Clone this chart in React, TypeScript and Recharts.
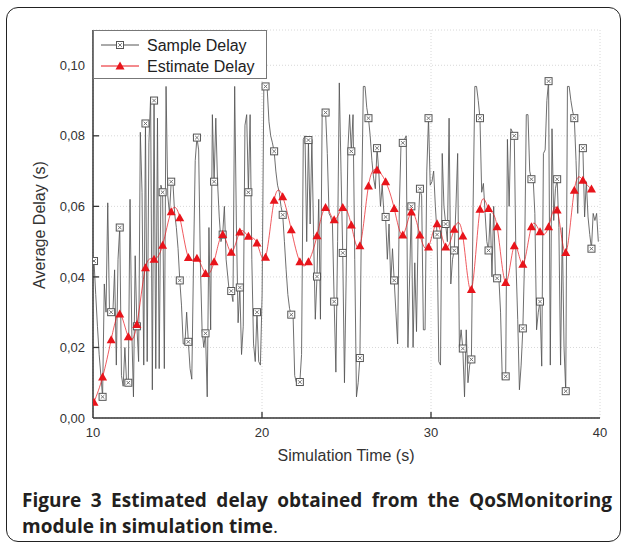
import React from 'react';
import { LineChart, Line, XAxis, YAxis, CartesianGrid } from 'recharts';

// sample grid: markers every 5th sample
const timeStart = 10.06;
const timeStep = 0.1015;

// Sample Delay (s), 5 samples per marker interval
const sampleDelay = [
  0.0445, 0.035, 0.026, 0.018, 0.012,
  0.006, 0.038, 0.030, 0.061, 0.031,
  0.030, 0.030, 0.042, 0.015, 0.045,
  0.054, 0.012, 0.009, 0.020, 0.010,
  0.010, 0.062, 0.025, 0.006, 0.046,
  0.026, 0.016, 0.081, 0.064, 0.015,
  0.0835, 0.016, 0.078, 0.091, 0.008,
  0.090, 0.014, 0.085, 0.014, 0.066,
  0.064, 0.014, 0.094, 0.063, 0.058,
  0.067, 0.067, 0.058, 0.054, 0.048,
  0.039, 0.032, 0.021, 0.021, 0.030,
  0.0216, 0.014, 0.011, 0.044, 0.073,
  0.0795, 0.076, 0.044, 0.025, 0.020,
  0.024, 0.006, 0.054, 0.025, 0.086,
  0.067, 0.085, 0.067, 0.057, 0.050,
  0.052, 0.060, 0.045, 0.040, 0.035,
  0.036, 0.033, 0.094, 0.055, 0.027,
  0.037, 0.018, 0.026, 0.083, 0.086,
  0.064, 0.086, 0.045, 0.021, 0.016,
  0.030, 0.016, 0.015, 0.035, 0.094,
  0.094, 0.093, 0.084, 0.080, 0.078,
  0.0756, 0.070, 0.066, 0.064, 0.060,
  0.0576, 0.050, 0.042, 0.035, 0.031,
  0.0293, 0.030, 0.012, 0.010, 0.011,
  0.0102, 0.018, 0.079, 0.080, 0.050,
  0.0788, 0.055, 0.079, 0.052, 0.028,
  0.0401, 0.062, 0.028, 0.086, 0.087,
  0.0866, 0.075, 0.058, 0.057, 0.055,
  0.033, 0.013, 0.050, 0.095, 0.070,
  0.0468, 0.010, 0.040, 0.076, 0.086,
  0.0756, 0.086, 0.045, 0.006, 0.010,
  0.017, 0.060, 0.094, 0.094, 0.088,
  0.085, 0.080, 0.073, 0.068, 0.065,
  0.0765, 0.070, 0.060, 0.066, 0.058,
  0.057, 0.045, 0.055, 0.038, 0.048,
  0.039, 0.030, 0.021, 0.060, 0.078,
  0.078, 0.079, 0.080, 0.020, 0.040,
  0.060, 0.020, 0.044, 0.0245, 0.055,
  0.065, 0.063, 0.025, 0.025, 0.070,
  0.085, 0.066, 0.067, 0.070, 0.060,
  0.052, 0.016, 0.015, 0.075, 0.060,
  0.055, 0.050, 0.085, 0.038, 0.045,
  0.0475, 0.060, 0.075, 0.020, 0.025,
  0.0197, 0.006, 0.025, 0.010, 0.015,
  0.0166, 0.060, 0.094, 0.094, 0.090,
  0.085, 0.064, 0.0665, 0.058, 0.050,
  0.0475, 0.058, 0.040, 0.060, 0.040,
  0.0396, 0.040, 0.030, 0.011, 0.012,
  0.0118, 0.079, 0.060, 0.082, 0.081,
  0.080, 0.044, 0.028, 0.008, 0.015,
  0.0254, 0.045, 0.086, 0.086, 0.070,
  0.0677, 0.068, 0.058, 0.025, 0.030,
  0.033, 0.0147, 0.075, 0.076, 0.090,
  0.0955, 0.015, 0.082, 0.056, 0.065,
  0.0677, 0.054, 0.015, 0.054, 0.020,
  0.0076, 0.094, 0.094, 0.090, 0.087,
  0.085, 0.073, 0.058, 0.076, 0.077,
  0.0765, 0.057, 0.067, 0.057, 0.052,
  0.048, 0.058, 0.056, 0.058, 0.050,
];

// Estimate Delay (s), one value per marker
const estimateDelay = [
  0.0045, 0.0116, 0.0222, 0.0295, 0.023, 0.0265, 0.0426, 0.045, 0.049, 0.0585,
  0.0568, 0.0455, 0.0453, 0.041, 0.0443, 0.052, 0.047, 0.0527, 0.0515, 0.0496,
  0.0456, 0.0617, 0.0627, 0.0534, 0.0443, 0.0443, 0.0517, 0.0597, 0.0562, 0.0597,
  0.0547, 0.0488, 0.0658, 0.0703, 0.067, 0.0594, 0.0519, 0.0584, 0.0519, 0.0485,
  0.0551, 0.0485, 0.0535, 0.0516, 0.0364, 0.0592, 0.0594, 0.0542, 0.0384, 0.0488,
  0.0436, 0.0542, 0.0528, 0.0542, 0.059, 0.0469, 0.0646, 0.0674, 0.0649,
];

const xTicks = [10, 20, 30, 40];
const yTicks = [0, 0.02, 0.04, 0.06, 0.08, 0.1];

const markEvery = 5;

const data = sampleDelay.map((v, k) => ({
  t: timeStart + timeStep * k,
  sample: v,
  estimate: k % markEvery === 0 ? estimateDelay[k / markEvery] : null,
}));

const FONT = '"Liberation Sans", Arial, sans-serif';
const AXIS = '#333';
const GRAY = '#555';
const RED = '#e8141b';

const fmtY = (v: number) => v.toFixed(2).replace('.', ',');

const LeftTick = (props: any) => {
  const { x, y, payload } = props;
  const ax = x + 8;
  return (
    <g>
      {payload.value > 0 && <line x1={ax} y1={y} x2={ax + 6} y2={y} stroke={AXIS} strokeWidth={1.3} />}
      <text x={x} y={y} dy="0.36em" textAnchor="end" fontSize={13} fill="#333" fontFamily={FONT}>
        {fmtY(payload.value)}
      </text>
    </g>
  );
};

const RightTick = (props: any) => {
  const { x, y, payload } = props;
  if (payload.value <= 0) return <g />;
  return <line x1={x} y1={y} x2={x - 6} y2={y} stroke={AXIS} strokeWidth={1.3} />;
};

const BottomTick = (props: any) => {
  const { x, y, payload } = props;
  const ay = y - 5;
  const inner = payload.value > 10 && payload.value < 40;
  return (
    <g>
      {inner && <line x1={x} y1={ay} x2={x} y2={ay - 6} stroke={AXIS} strokeWidth={1.3} />}
      <text x={x} y={y + 14} textAnchor="middle" fontSize={13} fill="#333" fontFamily={FONT}>
        {payload.value}
      </text>
    </g>
  );
};

const TopTick = (props: any) => {
  const { x, y, payload } = props;
  if (payload.value <= 10 || payload.value >= 40) return <g />;
  return <line x1={x} y1={y} x2={x} y2={y + 6} stroke={AXIS} strokeWidth={1.3} />;
};

const SquareMark = ({ cx, cy }: { cx: number; cy: number }) => (
  <g>
    <rect x={cx - 3.5} y={cy - 3.5} width={7} height={7} fill="#fff" stroke="#555" strokeWidth={1} />
    <path d={`M${cx - 1.8},${cy - 1.8}L${cx + 1.8},${cy + 1.8}M${cx + 1.8},${cy - 1.8}L${cx - 1.8},${cy + 1.8}`} stroke="#666" strokeWidth={0.9} />
  </g>
);

const TriMark = ({ cx, cy }: { cx: number; cy: number }) => (
  <path d={`M${cx},${cy - 4.5}L${cx + 4.5},${cy + 3.5}L${cx - 4.5},${cy + 3.5}Z`} fill={RED} />
);

const sampleDot = (props: any) => {
  const { cx, cy, index } = props;
  if (index % markEvery !== 0 || cy == null) return <g key={`s${index}`} />;
  return <g key={`s${index}`}><SquareMark cx={cx} cy={cy} /></g>;
};

const estimateDot = (props: any) => {
  const { cx, cy, index } = props;
  if (cy == null || Number.isNaN(cy)) return <g key={`e${index}`} />;
  return <g key={`e${index}`}><TriMark cx={cx} cy={cy} /></g>;
};

const Legend = () => (
  <svg width={174} height={49} style={{ position: 'absolute', left: 93, top: 30 }}>
    <rect x={0.5} y={0.5} width={173} height={48} fill="#fff" stroke="#777" strokeWidth={1} />
    <line x1={8} y1={15} x2={46} y2={15} stroke={GRAY} strokeWidth={1} />
    <SquareMark cx={27} cy={15} />
    <text x={54} y={20.5} fontSize={16} fill="#222" fontFamily={FONT}>Sample Delay</text>
    <line x1={8} y1={36} x2={46} y2={36} stroke={RED} strokeWidth={1} />
    <TriMark cx={27} cy={36} />
    <text x={54} y={41.5} fontSize={16} fill="#222" fontFamily={FONT}>Estimate Delay</text>
  </svg>
);

const captionStyle: React.CSSProperties = {
  position: 'absolute', left: 22, width: 590, fontFamily: '"Open Sans", sans-serif',
  fontSize: 19, lineHeight: '26px', color: '#231f20', fontWeight: 700, whiteSpace: 'nowrap',
};

export default function App() {
  return (
    <div style={{ position: 'absolute', left: 0, top: 0, width: 624, height: 547, background: '#fff', overflow: 'hidden' }}>
      <div style={{ position: 'absolute', left: 6, top: 7, width: 613, height: 533, border: '1.5px solid #222', borderRadius: 12 }} />
      <LineChart width={624} height={547} data={data} margin={{ top: 30, right: 24, left: 0, bottom: 0 }}>
        <CartesianGrid stroke="#d8d8d8" strokeDasharray="1 2" />
        <XAxis
          dataKey="t"
          type="number"
          domain={[10, 40]}
          ticks={xTicks}
          height={129}
          tickSize={0}
          tickMargin={5}
          tick={<BottomTick />}
          axisLine={{ stroke: AXIS, strokeWidth: 1.5 }}
          allowDataOverflow
        />
        <XAxis
          xAxisId="top"
          orientation="top"
          dataKey="t"
          type="number"
          domain={[10, 40]}
          ticks={xTicks}
          height={0}
          tickSize={0}
          tickMargin={0}
          tick={<TopTick />}
          axisLine={{ stroke: AXIS, strokeWidth: 1.5 }}
          allowDataOverflow
        />
        <YAxis
          type="number"
          domain={[0, 0.11]}
          ticks={yTicks}
          width={93}
          tickSize={0}
          tickMargin={8}
          tick={<LeftTick />}
          axisLine={{ stroke: AXIS, strokeWidth: 1.5 }}
          allowDataOverflow
        />
        <YAxis
          yAxisId="right"
          orientation="right"
          type="number"
          domain={[0, 0.11]}
          ticks={yTicks}
          width={0}
          tickSize={0}
          tickMargin={0}
          tick={<RightTick />}
          axisLine={{ stroke: AXIS, strokeWidth: 1.5 }}
          allowDataOverflow
        />
        <Line
          dataKey="sample"
          type="linear"
          stroke={GRAY}
          strokeWidth={0.85}
          dot={sampleDot}
          activeDot={false}
          isAnimationActive={false}
        />
        <Line
          dataKey="estimate"
          type="natural"
          stroke={RED}
          strokeWidth={1}
          strokeOpacity={0.7}
          connectNulls
          dot={estimateDot}
          activeDot={false}
          isAnimationActive={false}
        />
      </LineChart>
      <Legend />
      <div
        style={{
          position: 'absolute', left: 40, top: 225, transform: 'translate(-50%, -50%) rotate(-90deg)',
          whiteSpace: 'nowrap', fontFamily: FONT, fontSize: 16, color: '#333',
        }}
      >
        Average Delay (s)
      </div>
      <div
        style={{
          position: 'absolute', left: 346, top: 464, transform: 'translate(-50%, -100%)',
          whiteSpace: 'nowrap', fontFamily: FONT, fontSize: 16, color: '#333', lineHeight: '16px',
        }}
      >
        Simulation Time (s)
      </div>
      <div style={{ ...captionStyle, top: 487, textAlign: 'justify', textAlignLast: 'justify' }}>
        Figure 3 Estimated delay obtained from the QoSMonitoring
      </div>
      <div style={{ ...captionStyle, top: 513 }}>
        module in simulation time<span style={{ fontWeight: 400 }}>.</span>
      </div>
    </div>
  );
}
